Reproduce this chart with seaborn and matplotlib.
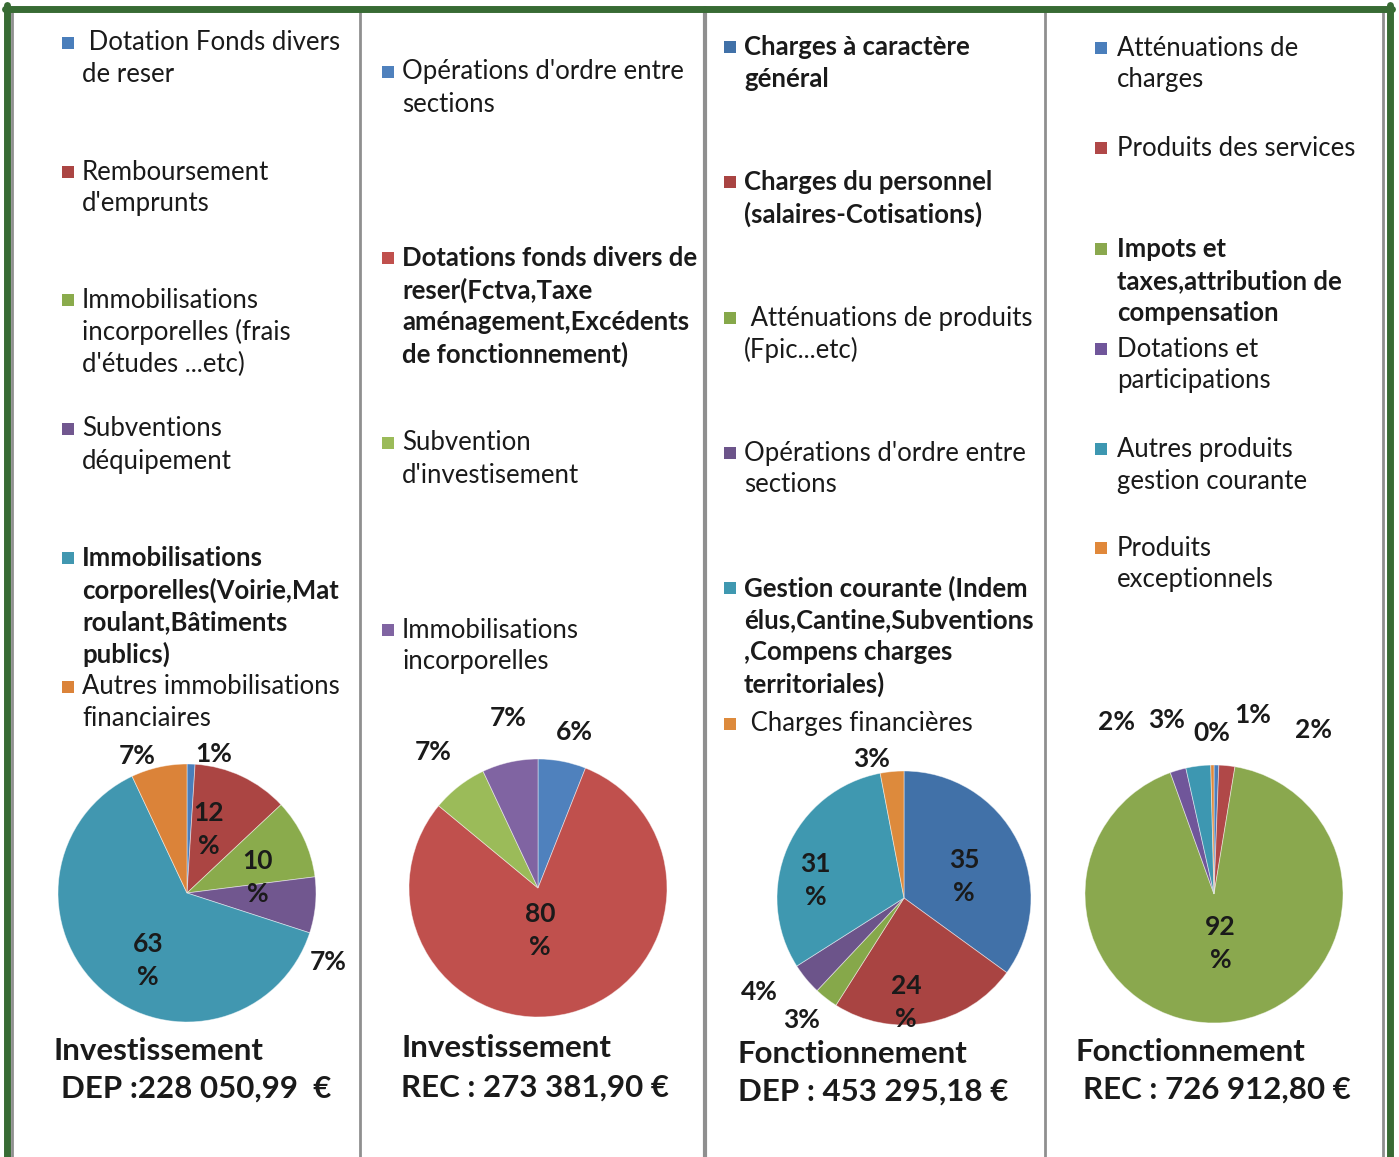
import matplotlib
matplotlib.use("Agg")
import matplotlib.pyplot as plt
from matplotlib.patches import Rectangle
from matplotlib.lines import Line2D
import numpy as np
import seaborn as sns

sns.set_theme(style="white")
plt.rcParams['font.family'] = ['Lato', 'DejaVu Sans']

# ---------------- DATA ----------------
inv_dep_labels = [" Dotation Fonds divers\nde reser", "Remboursement\nd'emprunts",
                  "Immobilisations\nincorporelles (frais\nd'études ...etc)",
                  "Subventions\ndéquipement",
                  "Immobilisations\ncorporelles(Voirie,Mat\nroulant,Bâtiments\npublics)",
                  "Autres immobilisations\nfinanciaires"]
inv_dep_values = [1, 12, 10, 7, 63, 7]
inv_dep_bold = [False, False, False, False, True, False]

inv_rec_labels = ["Opérations d'ordre entre\nsections",
                  "Dotations fonds divers de\nreser(Fctva,Taxe\naménagement,Excédents\nde fonctionnement)",
                  "Subvention\nd'investisement", "Immobilisations\nincorporelles"]
inv_rec_values = [6, 80, 7, 7]
inv_rec_bold = [False, True, False, False]

fon_dep_labels = ["Charges à caractère\ngénéral", "Charges du personnel\n(salaires-Cotisations)",
                  " Atténuations de produits\n(Fpic...etc)", "Opérations d'ordre entre\nsections",
                  "Gestion courante (Indem\nélus,Cantine,Subventions\n,Compens charges\nterritoriales)",
                  " Charges financières"]
fon_dep_values = [35, 24, 3, 4, 31, 3]
fon_dep_bold = [True, True, False, False, True, False]

fon_rec_labels = ["Atténuations de\ncharges", "Produits des services",
                  "Impots et\ntaxes,attribution de\ncompensation", "Dotations et\nparticipations",
                  "Autres produits\ngestion courante", "Produits\nexceptionnels"]
fon_rec_values = [0.6, 2.0, 91.9, 2.0, 3.1, 0.4]
fon_rec_bold = [False, False, True, False, False, False]

titles_line1 = ["Investissement", "Investissement", "Fonctionnement", "Fonctionnement"]
titles_line2 = ["DEP :228 050,99  €", "REC : 273 381,90 €", "DEP : 453 295,18 €", "REC : 726 912,80 €"]

# ---------------- STYLE / LAYOUT ----------------
W, H = 1399, 1157
fig = plt.figure(figsize=(W / 100, H / 100), dpi=100)
fig.patch.set_facecolor("white")

def fx(x):
    return x / W

def fy(y):
    return 1 - y / H

pal1 = sns.color_palette(["#4a7ebb", "#ab4543", "#8aab4c", "#71578f", "#4197b0", "#db8339"])
pal2 = sns.color_palette(["#4f81bd", "#c0504d", "#9bbb59", "#8064a2"])
pal3 = sns.color_palette(["#4171a8", "#a94442", "#86a84a", "#6c548a", "#3f98b0", "#dd8a3c"])
pal4 = sns.color_palette(["#4a7ebb", "#b04848", "#8aa84e", "#70569a", "#3d97b1", "#e0883a"])

panels = [
    dict(labels=inv_dep_labels, values=inv_dep_values, bold=inv_dep_bold, pal=pal1,
         center=(187, 893), r=129, leg_y=[43, 172, 300, 429, 558, 687], mx=68, tx=82,
         lab_dist=[1.1, 0.52, 0.56, 1.22, 0.6, 1.13], lab_shift=[-9, 6, -12.5, -20.6, 11.4, 7.4],
         split=[False, True, True, False, True, False],
         t1=(53, 1051), t2=(61, 1089)),
    dict(labels=inv_rec_labels, values=inv_rec_values, bold=inv_rec_bold, pal=pal2,
         center=(538, 888), r=129, leg_y=[72, 258, 443, 630], mx=388, tx=402,
         lab_dist=[1.24, 0.33, 1.33, 1.34], lab_shift=[-2.5, -11.4, 0, -2.6],
         split=[False, True, False, False],
         t1=(401, 1048), t2=(401, 1088)),
    dict(labels=fon_dep_labels, values=fon_dep_values, bold=fon_dep_bold, pal=pal3,
         center=(904, 898), r=127, leg_y=[47, 182, 318, 453, 588, 724], mx=730, tx=744,
         lab_dist=[0.5, 0.82, 1.25, 1.36, 0.71, 1.12], lab_shift=[-7.5, -9.8, -2.2, -6.6, 12.4, 7.6],
         split=[True, True, False, False, True, False],
         t1=(738, 1054), t2=(738, 1092)),
    dict(labels=fon_rec_labels, values=fon_rec_values, bold=fon_rec_bold, pal=pal4,
         center=(1214, 894), r=129, leg_y=[48, 148, 249, 349, 449, 548], mx=1101, tx=1117,
         lab_dist=[1.42, 1.49, 0.39, 1.53, 1.40, 1.25], lab_shift=[-11, -25.5, 2, 13.3, 8.3, 0],
         split=[False, False, True, False, False, False],
         t1=(1076, 1052), t2=(1083, 1090)),
]

LEG_FS = 18.5
LINE_H = 32
MS = 12

for p in panels:
    # legend
    for lab, y0, b, c in zip(p["labels"], p["leg_y"], p["bold"], p["pal"]):
        fig.patches.append(Rectangle((fx(p["mx"] - MS / 2), fy(y0 + MS / 2)), MS / W, MS / H,
                                     transform=fig.transFigure, facecolor=c, edgecolor="none"))
        for i, line in enumerate(lab.split("\n")):
            fig.text(fx(p["tx"]), fy(y0 + i * LINE_H), line, fontsize=LEG_FS,
                     fontweight="bold" if b else "normal", color="#1a1a1a",
                     ha="left", va="center")
    # pie
    cx, cy = p["center"]
    r = p["r"]
    ax = fig.add_axes([fx(cx - r), fy(cy + r), 2 * r / W, 2 * r / H])
    vals = np.array(p["values"], dtype=float)
    wedges, _ = ax.pie(vals, colors=p["pal"], startangle=90, counterclock=False, radius=1,
                       wedgeprops=dict(linewidth=0.6, edgecolor=(1, 1, 1, 0.5)))
    ax.set_xlim(-1, 1)
    ax.set_ylim(-1, 1)
    ax.set_aspect("equal")
    ax.axis("off")
    cum = np.cumsum(vals) - vals / 2
    tot = vals.sum()
    for v, m, d, s, sp in zip(vals, cum, p["lab_dist"], p["lab_shift"], p["split"]):
        ang = np.deg2rad(90 - 360 * m / tot + s)
        pct = int(round(v / tot * 100))
        txt = f"{pct}\n%" if sp else f"{pct}%"
        ax.text(d * np.cos(ang), d * np.sin(ang), txt, ha="center", va="center",
                fontsize=19, fontweight="bold", color="#1a1a1a", linespacing=1.45,
                clip_on=False)

# titles
for p, a, b in zip(panels, titles_line1, titles_line2):
    fig.text(fx(p["t1"][0]), fy(p["t1"][1]), a, fontsize=22.5, fontweight="bold",
             color="#1a1a1a", ha="left", va="center")
    fig.text(fx(p["t2"][0]), fy(p["t2"][1]), b, fontsize=22.5, fontweight="bold",
             color="#1a1a1a", ha="left", va="center")

# frame lines
green = "#386b34"
for x in [12, 360, 705, 1045, 1383]:
    lw = 3.0 if x == 705 else 2.0
    fig.lines.append(Line2D([fx(x), fx(x)], [fy(8), 0], transform=fig.transFigure,
                            color="#8f8f8f", linewidth=lw))
fig.lines.append(Line2D([fx(7), fx(7)], [fy(5), 0], transform=fig.transFigure, color=green, linewidth=5))
fig.lines.append(Line2D([fx(1390), fx(1390)], [fy(5), 0], transform=fig.transFigure, color=green, linewidth=5))
fig.lines.append(Line2D([fx(5), fx(1392)], [fy(8.5), fy(8.5)], transform=fig.transFigure, color=green, linewidth=5))

fig.savefig("out.png", dpi=100, facecolor="white")
